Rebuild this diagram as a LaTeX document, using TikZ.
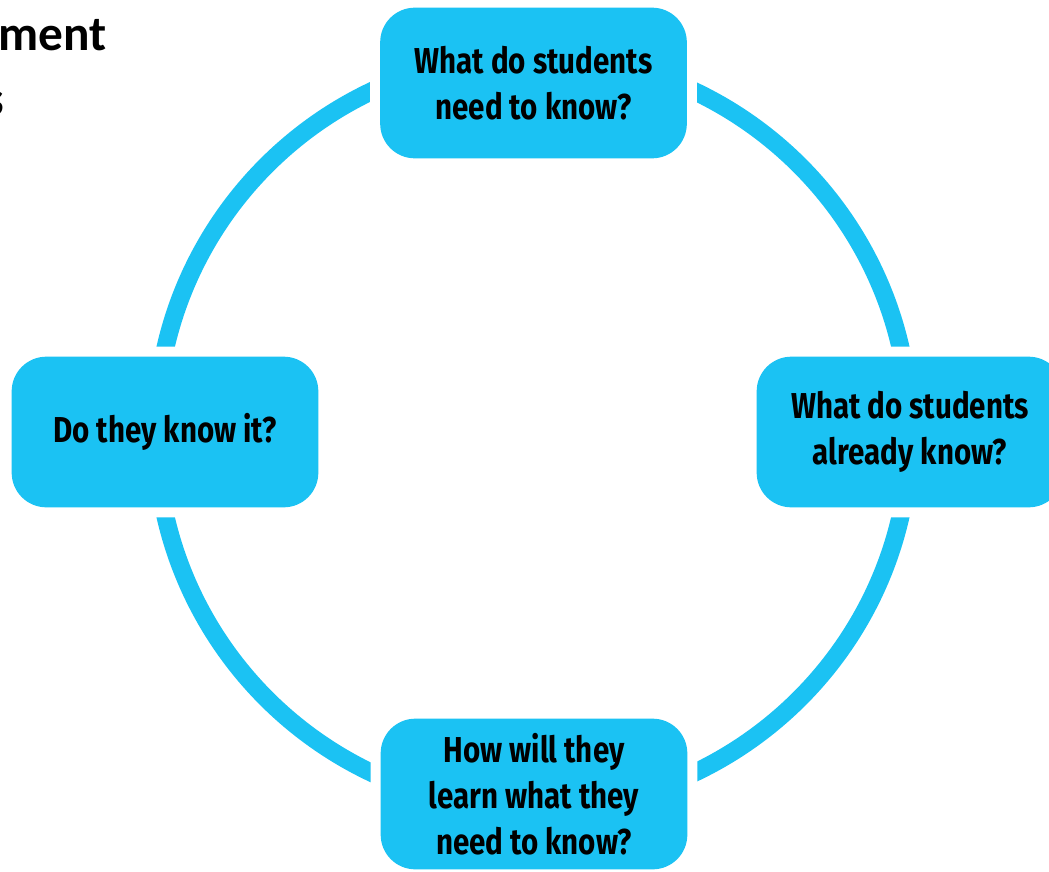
\documentclass[tikz,border=0pt]{standalone}
\usepackage{fontspec}
\setmainfont{Fira Sans}
\newfontfamily\boxfont[FakeStretch=0.82]{Fira Sans}
\newfontfamily\headfont{Carlito}
\definecolor{cyanb}{RGB}{27,194,243}
\tikzset{
  ring/.style={draw=cyanb, line width=13.5pt},
  qbox/.style={fill=cyanb, rounded corners=26pt, minimum width=230pt, minimum height=113pt,
    inner sep=0pt, align=center, text=black,
    font=\boxfont\bfseries\fontsize{27}{34.5}\selectfont,
    preaction={draw=white, line width=15pt}},
  headtext/.style={inner sep=0pt, font=\headfont\bfseries\fontsize{37}{44}\selectfont}
}
\begin{document}
\begin{tikzpicture}[x=0.75pt, y=-0.75pt]
\useasboundingbox (0,0) rectangle (1049,871);
\coordinate (c) at (533,432);
\draw[ring] (c) circle[radius=282.75pt];
\node[qbox] (top) at (533.5,83) {What do students\\need to know?};
\node[qbox] (right) at (910,432) {What do students\\already know?};
\node[qbox] (bottom) at (534,794) {How will they\\learn what they\\need to know?};
\node[qbox] (left) at (165,432) {Do they know it?};
\node[headtext, anchor=base east] (h1) at (107,50) {ment};
\node[headtext, anchor=base east] (h2) at (4,115) {s};
\end{tikzpicture}
\end{document}
